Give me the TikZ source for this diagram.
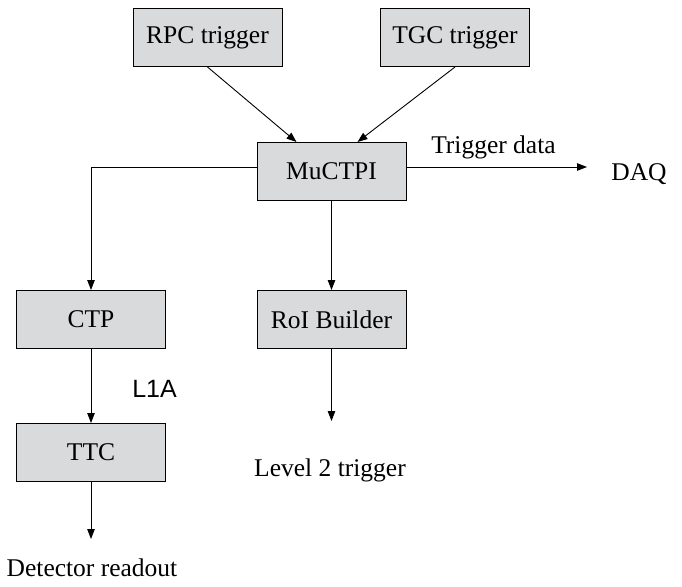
\documentclass[tikz,border=0pt]{standalone}
\usepackage{fontspec}
\setmainfont{Liberation Serif}
\newfontfamily\labsans{Liberation Sans}
\usetikzlibrary{arrows.meta}
\definecolor{boxgray}{HTML}{D9DADC}
\tikzset{
  blk/.style={draw=black, line width=1pt, fill=boxgray, minimum width=149pt, minimum height=58pt, inner sep=0pt, font=\fontsize{25.5}{29}\selectfont},
  conn/.style={line width=0.9pt, -{Triangle[length=10pt,width=7.5pt]}},
  txt/.style={font=\fontsize{25.5}{29}\selectfont, inner sep=0pt},
}
\begin{document}
\begin{tikzpicture}[x=1pt,y=-1pt]
\useasboundingbox (0,0) rectangle (682,586);
\node[blk] (rpc) at (207.5,37.5) {RPC trigger};
\node[blk] (tgc) at (455,37.5) {TGC trigger};
\node[blk] (mu) at (331.5,171) {MuCTPI};
\node[blk] (ctp) at (91,319.5) {CTP};
\node[blk] (roi) at (331.5,319.5) {RoI Builder};
\node[blk] (ttc) at (91,452.5) {TTC};
\node[txt, anchor=base] (td) at (493.5,153) {Trigger data};
\node[txt, anchor=base] (daq) at (639,180) {DAQ};
\node[txt, anchor=base] (l2) at (330,476) {Level 2 trigger};
\node[txt, anchor=base] (det) at (92,576) {Detector readout};
\node[inner sep=0pt, anchor=base, font=\labsans\fontsize{25}{29}\selectfont] (l1a) at (154.5,397) {L1A};
\coordinate (daqend) at (587,167);
\coordinate (leftc) at (91,167);
\coordinate (l2end) at (331.5,421);
\coordinate (detend) at (91,539);
\coordinate (murpc) at (296.5,142);
\coordinate (mutgc) at (357.5,142);
\draw[conn] (rpc.south) -- (murpc);
\draw[conn] (tgc.south) -- (mutgc);
\draw[conn] (mu.east |- daqend) -- (daqend);
\draw[conn] (mu.west |- leftc) -- (leftc) -- (ctp.north);
\draw[conn] (mu.south) -- (roi.north);
\draw[conn] (ctp.south) -- (ttc.north);
\draw[conn] (roi.south) -- (l2end);
\draw[conn] (ttc.south) -- (detend);
\end{tikzpicture}
\end{document}
